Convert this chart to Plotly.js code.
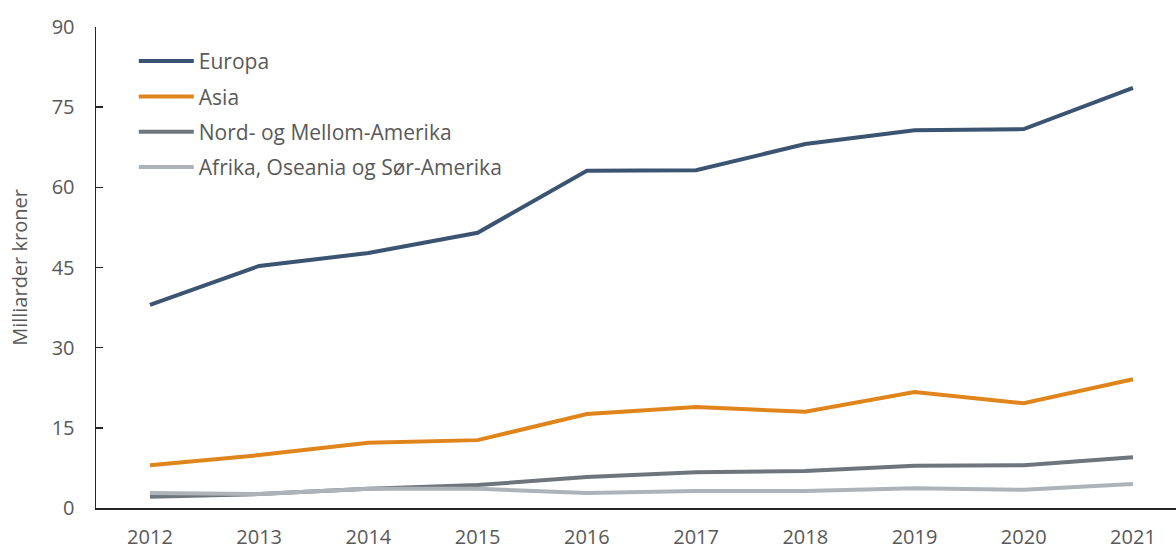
<!DOCTYPE html>
<html><head><meta charset="utf-8">
<script src="https://cdn.plot.ly/plotly-3.0.1.min.js"></script>
<style>body{margin:0;background:#fff}#chart{width:1176px;height:549px}</style>
</head><body><div id="chart"></div>
<script>
const years = [2012, 2013, 2014, 2015, 2016, 2017, 2018, 2019, 2020, 2021];
const europa = [38.0, 45.3, 47.7, 51.5, 63.1, 63.2, 68.1, 70.7, 70.9, 78.6];
const asia = [8.0, 9.9, 12.2, 12.7, 17.6, 18.9, 18.0, 21.7, 19.6, 24.1];
const nordAmerika = [2.1, 2.6, 3.6, 4.3, 5.8, 6.7, 6.9, 7.9, 8.0, 9.5];
const afrikaOseaniaSor = [2.8, 2.6, 3.6, 3.6, 2.8, 3.2, 3.2, 3.7, 3.4, 4.5];
const seriesNames = ["Europa", "Asia", "Nord- og Mellom-Amerika", "Afrika, Oseania og Sør-Amerika"];
const yTicks = [0, 15, 30, 45, 60, 75, 90];

const colors = ["#3b5471", "#e0841c", "#6d767e", "#adb4b9"];
const data = [europa, asia, nordAmerika, afrikaOseaniaSor].map((v, i) => ({
  x: years, y: v, name: seriesNames[i], type: "scatter", mode: "lines",
  legendgroup: "g" + i,
  line: {color: colors[i], width: 4}
}));
const layout = {
  width: 1176, height: 549,
  margin: {l: 96, r: 0, t: 27, b: 41},
  paper_bgcolor: "#fff", plot_bgcolor: "#fff",
  font: {family: "'Open Sans', 'Liberation Sans', sans-serif", color: "#595959", size: 20},
  showlegend: true,
  legend: {x: 0.035, y: 0.971, xanchor: "left", yanchor: "top", bgcolor: "rgba(0,0,0,0)",
           font: {size: 21, color: "#595959"}, traceorder: "grouped", tracegroupgap: 5, itemwidth: 55},
  xaxis: {
    range: [2011.506, 2021.394], tickvals: years, ticktext: years.map(String),
    showgrid: false, zeroline: false, showline: true, linecolor: "#262626", linewidth: 1.5,
    ticks: "", ticklabelstandoff: 10, tickfont: {size: 20, color: "#595959"}
  },
  yaxis: {
    range: [0, 90], tickvals: yTicks, showgrid: false, zeroline: false,
    showline: true, linecolor: "#262626", linewidth: 1.5,
    ticks: "inside", ticklen: 7, tickcolor: "#262626", tickwidth: 1.5,
    ticklabelstandoff: 16,
    tickfont: {size: 20, color: "#595959"},
    title: {text: "Milliarder kroner", font: {size: 20, color: "#595959"}, standoff: 18}
  }
};
Plotly.newPlot("chart", data, layout, {displayModeBar: false, staticPlot: true});
</script></body></html>
